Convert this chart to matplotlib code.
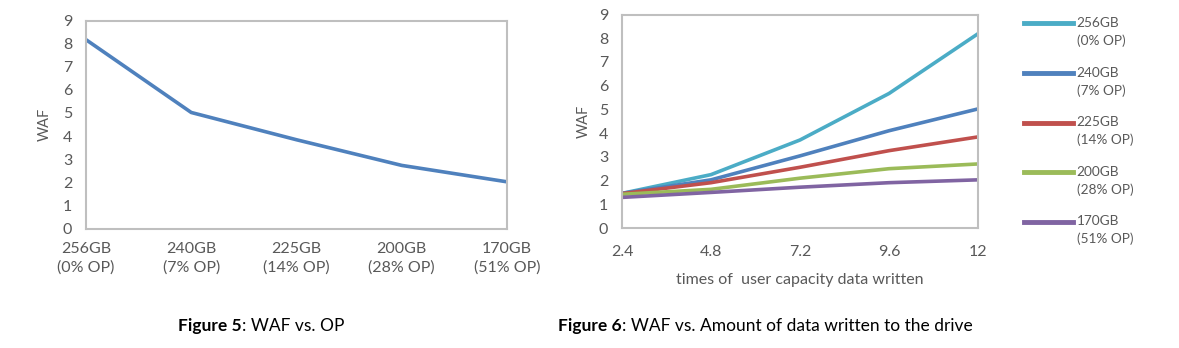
import numpy as np
import matplotlib.pyplot as plt
from matplotlib.legend_handler import HandlerLine2D

plt.rcParams['font.family'] = ['Lato', 'DejaVu Sans']

# data
op_labels = ['256GB\n(0% OP)', '240GB\n(7% OP)', '225GB\n(14% OP)', '200GB\n(28% OP)', '170GB\n(51% OP)']
waf_vs_op = [8.17, 5.02, 3.84, 2.73, 2.02]

written = ['2.4', '4.8', '7.2', '9.6', '12']
waf_256 = [1.46, 2.25, 3.71, 5.67, 8.19]
waf_240 = [1.46, 2.03, 3.04, 4.10, 5.02]
waf_225 = [1.45, 1.91, 2.56, 3.26, 3.84]
waf_200 = [1.42, 1.63, 2.10, 2.50, 2.70]
waf_170 = [1.29, 1.50, 1.72, 1.91, 2.03]

series = [waf_256, waf_240, waf_225, waf_200, waf_170]
colors = ['#4BACC6', '#4F81BD', '#C0504D', '#9BBB59', '#8064A2']

gray = '#595959'
W, H = 1179, 348
fig = plt.figure(figsize=(W / 100, H / 100), dpi=100)


def style(ax):
    for s in ax.spines.values():
        s.set_color('#BFBFBF')
        s.set_linewidth(1.5)
    ax.tick_params(length=0, colors=gray, labelsize=11.5)
    ax.set_ylim(0, 9)
    ax.set_yticks(range(10))


ax1 = fig.add_axes([86 / W, 1 - 228.5 / H, 421 / W, 208 / H])
x1 = np.arange(len(op_labels))
ax1.plot(x1, waf_vs_op, color='#4F81BD', lw=2.6)
ax1.set_xlim(0, len(op_labels) - 1)
ax1.set_xticks(x1)
ax1.set_xticklabels(op_labels, linespacing=1.35)
style(ax1)
ax1.tick_params(axis='y', pad=10)
ax1.tick_params(axis='x', pad=10)
ax1.set_ylabel('WAF', color=gray, fontsize=10.5, labelpad=8)

ax2 = fig.add_axes([622 / W, 1 - 228 / H, 356 / W, 213.5 / H])
x2 = np.arange(len(written))
lines = []
for vals, c in zip(series, colors):
    ln, = ax2.plot(x2, vals, color=c, lw=2.6)
    lines.append(ln)
ax2.set_xlim(0, len(written) - 1)
ax2.set_xticks(x2)
ax2.set_xticklabels(written)
style(ax2)
ax2.tick_params(axis='y', pad=10)
ax2.tick_params(axis='x', pad=12)
ax2.set_ylabel('WAF', color=gray, fontsize=10.5, labelpad=6)
ax2.set_xlabel('times of  user capacity data written', color=gray, fontsize=11.5, labelpad=10)


class TopLine(HandlerLine2D):
    # put the handle next to the first line of a two-line label
    def create_artists(self, legend, orig_handle, xdescent, ydescent, width, height, fontsize, trans):
        arts = super().create_artists(legend, orig_handle, xdescent, ydescent, width, height, fontsize, trans)
        for a in arts:
            a.set_ydata(np.asarray(a.get_ydata()) + 0.66 * fontsize)
        return arts


leg = fig.legend(lines, op_labels, loc='upper left', bbox_to_anchor=(1012 / W, 1 - 5 / H),
                 frameon=False, fontsize=9.8, handlelength=3.6, handletextpad=0.25,
                 labelspacing=1.45, handler_map={plt.Line2D: TopLine()})
for t in leg.get_texts():
    t.set_color(gray)
    t.set_linespacing(1.5)
for h in leg.legend_handles:
    h.set_linewidth(3.5)

t5 = fig.text(178 / W, 1 - 326 / H, 'Figure 5', fontsize=12.5, fontweight='bold', va='center')
t6 = fig.text(558 / W, 1 - 326 / H, 'Figure 6', fontsize=12.5, fontweight='bold', va='center')
ax1.annotate(': WAF vs. OP', xy=(1, 0.5), xycoords=t5, va='center', fontsize=12.5)
ax1.annotate(': WAF vs. Amount of data written to the drive', xy=(1, 0.5), xycoords=t6,
             va='center', fontsize=12.5)

fig.savefig('out.png', dpi=100)
